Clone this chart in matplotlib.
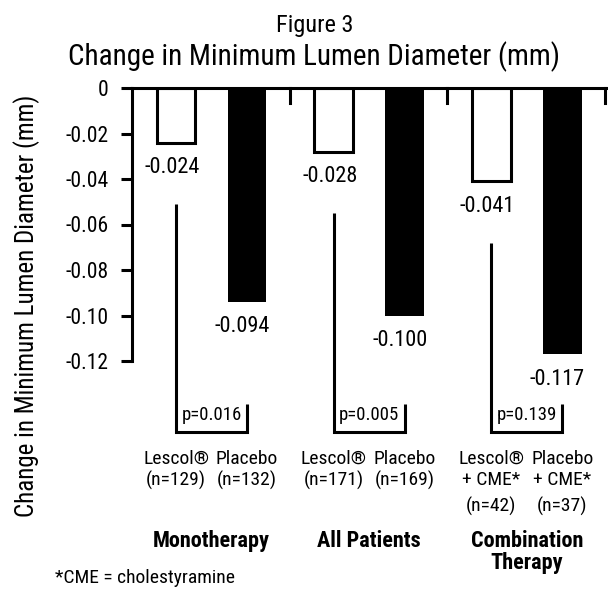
import matplotlib
matplotlib.use('Agg')
import matplotlib.pyplot as plt
from matplotlib import font_manager

# pick a narrow sans font if one is there
available = {f.name for f in font_manager.fontManager.ttflist}
font_name = 'DejaVu Sans'
for cand in ['Liberation Sans Narrow', 'DejaVu Sans Condensed', 'Roboto Condensed']:
    if cand in available:
        font_name = cand
        break
plt.rcParams['font.family'] = [font_name, 'DejaVu Sans']

# data
groups = ['Monotherapy', 'All Patients', 'Combination\nTherapy']
lescol = [-0.024, -0.028, -0.041]
placebo = [-0.094, -0.100, -0.117]
p_values = ['p=0.016', 'p=0.005', 'p=0.139']
lescol_rows = [['Lescol\u00ae', '(n=129)'],
               ['Lescol\u00ae', '(n=171)'],
               ['Lescol\u00ae', '+ CME*', '(n=42)']]
placebo_rows = [['Placebo', '(n=132)'],
                ['Placebo', '(n=169)'],
                ['Placebo', '+ CME*', '(n=37)']]
yticks = [0, -0.02, -0.04, -0.06, -0.08, -0.10, -0.12]
ytick_labels = ['0', '-0.02', '-0.04', '-0.06', '-0.08', '-0.10', '-0.12']

W, H = 608, 589
fig = plt.figure(figsize=(W / 100, H / 100), dpi=100)
ax = fig.add_axes([132 / W, 1 - 361 / H, 476 / W, 273 / H])
ax.set_xlim(0, 3.02)
ax.set_ylim(-0.12, 0)


def yv(py):
    # pixel row (from top) -> data value
    return -(py - 88) / 273 * 0.12


lw = 2.2
bar_w = 0.245
off_l, off_p = 0.28, 0.73
row_y = [459, 480, 506]

for i in range(len(groups)):
    xl = i + off_l
    xp = i + off_p
    ax.bar(xl, lescol[i], width=bar_w, color='white', edgecolor='black', linewidth=lw)
    ax.bar(xp, placebo[i], width=bar_w, color='black', edgecolor='black', linewidth=0)
    ax.annotate(f'{lescol[i]:.3f}', (xl, lescol[i]), xytext=(-4, -25),
                textcoords='offset pixels', ha='center', va='center', fontsize=16)
    ax.annotate(f'{placebo[i]:.3f}', (xp, placebo[i]), xytext=(-5, -25),
                textcoords='offset pixels', ha='center', va='center', fontsize=16)

    # bracket with p value
    top = lescol[i] - 0.027
    ax.plot([xl, xl, xp, xp], [top, yv(432), yv(432), yv(404)], color='black',
            lw=lw, clip_on=False, solid_capstyle='butt', solid_joinstyle='miter')
    ax.text((xl + xp) / 2, yv(415), p_values[i], ha='center', va='center',
            fontsize=13.5, clip_on=False)

    # group separator tick
    ax.plot([i + 1, i + 1], [0, yv(103)], color='black', lw=lw, clip_on=False)

    # labels under the chart
    for r, txt in enumerate(lescol_rows[i]):
        ax.text(xl, yv(row_y[r]), txt, ha='center', va='center', fontsize=14,
                clip_on=False)
    for r, txt in enumerate(placebo_rows[i]):
        ax.text(xp, yv(row_y[r]), txt, ha='center', va='center', fontsize=14,
                clip_on=False)
    ax.text((xl + xp) / 2, yv(530), groups[i], ha='center', va='top', fontsize=16,
            fontweight='bold', linespacing=1.0, clip_on=False)

ax.spines['right'].set_visible(False)
ax.spines['bottom'].set_visible(False)
ax.spines['left'].set_linewidth(lw)
ax.spines['top'].set_linewidth(lw)
ax.set_xticks([])
ax.set_yticks(yticks)
ax.set_yticklabels(ytick_labels, fontsize=15.5)
ax.tick_params(axis='y', length=8, width=lw, pad=9)

fig.text(27 / W, 1 - 306 / H, 'Change in Minimum Lumen Diameter (mm)', rotation=90,
         ha='center', va='center', fontsize=18)
fig.text(315 / W, 1 - 32 / H, 'Figure 3', ha='center', va='baseline', fontsize=17.5)
fig.text(314 / W, 1 - 65 / H, 'Change in Minimum Lumen Diameter (mm)', ha='center',
         va='baseline', fontsize=21)
fig.text(55 / W, 1 - 578 / H, '*CME = cholestyramine', ha='left', va='center', fontsize=14)

fig.savefig('out.png', dpi=100)
